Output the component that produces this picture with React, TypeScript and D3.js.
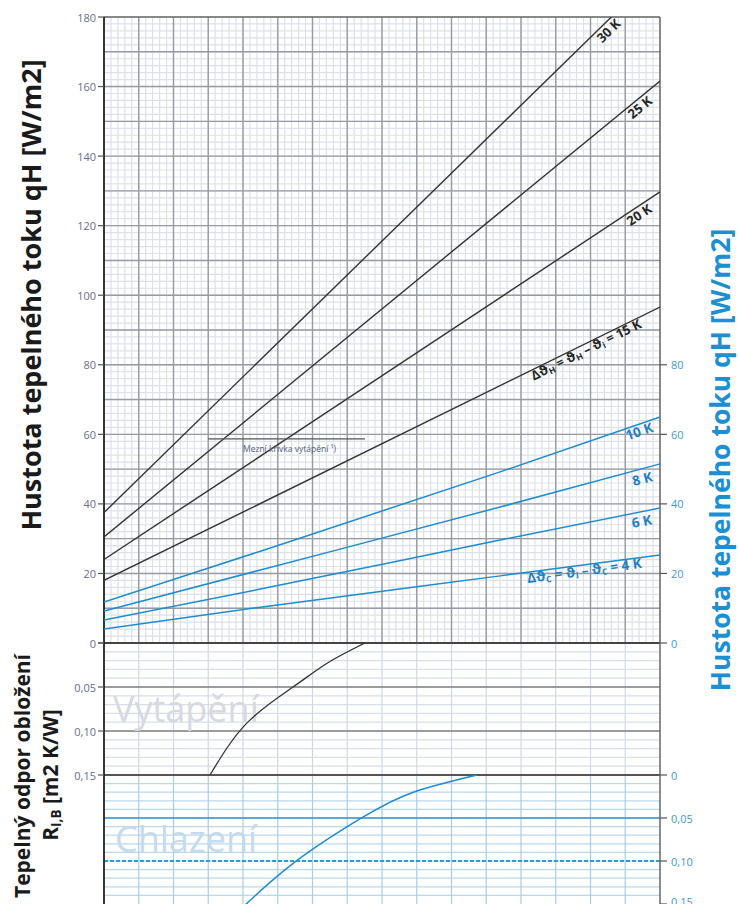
import * as d3 from 'd3';

// column grid (the x axis carries no labels in the source chart)
const COLS = 16;

// heat flux lines, black (heating) – [column, q W/m2]
const heat30 = [[0, 37.5], [14.6, 180]];
const heat25 = [[0, 30.5], [16, 161.6]];
const heat20 = [[0, 24], [16, 129.7]];
const heat15 = [[0, 18], [16, 96.6]];

// heat flux lines, blue (cooling)
const cool10 = [[0, 11.8], [4.5, 26.4], [11.4, 49.2], [16, 65]];
const cool8 = [[0, 9.2], [4.5, 21.0], [11.4, 39.1], [16, 51.5]];
const cool6 = [[0, 6.6], [4.5, 15.5], [11.4, 29.6], [16, 38.8]];
const cool4 = [[0, 4.0], [4.5, 10.3], [11.4, 19.3], [16, 25.3]];

// limit curve (Mezní křivka vytápění) – q level and column span
const limitQ = 58.7;
const limitCols = [3.0, 7.51];

// R_lambda,B curves in the two lower panels – [column, R]
const heatR = [[3.05, 0.15], [4.11, 0.091], [5.44, 0.05], [6.42, 0.023], [7.51, 0]];
const coolR = [[3.9, 0.157], [4.12, 0.149], [5.5, 0.101], [7.45, 0.049], [8.9, 0.02], [10.73, 0]];

const leftQTicks = [0, 20, 40, 60, 80, 100, 120, 140, 160, 180];
const rightQTicks = [0, 20, 40, 60, 80];
const rTicks = [0, 0.05, 0.1, 0.15];
const rTickLabels = ['0', '0,05', '0,10', '0,15'];

const x = d3.scaleLinear().domain([0, COLS]).range([104, 660]);
const yQ = d3.scaleLinear().domain([0, 180]).range([643, 17]);
const yHeat = d3.scaleLinear().domain([0, 0.15]).range([643, 775]);
const yCool = d3.scaleLinear().domain([0, 0.15]).range([775, 904]);

const BLACK = '#333';
const BLUE = '#1d8cd0';

type Pt = number[];

function qAt(pts: Pt[], c: number) {
  for (let i = 1; i < pts.length; i++) {
    if (c <= pts[i][0]) {
      const t = (c - pts[i - 1][0]) / (pts[i][0] - pts[i - 1][0]);
      return pts[i - 1][1] + t * (pts[i][1] - pts[i - 1][1]);
    }
  }
  return pts[pts.length - 1][1];
}

// place a label on a line, rotated along it, shifted below by `off`
function along(pts: Pt[], c: number, off: number) {
  const a = pts[0], b = pts[pts.length - 1];
  const ang = (Math.atan2(yQ(b[1]) - yQ(a[1]), x(b[0]) - x(a[0])) * 180) / Math.PI;
  return `translate(${x(c)},${yQ(qAt(pts, c))}) rotate(${ang}) translate(0,${off})`;
}

const lineQ = d3.line<Pt>().x(d => x(d[0])).y(d => yQ(d[1])).curve(d3.curveMonotoneX);
const lineHeat = d3.line<Pt>().x(d => x(d[0])).y(d => yHeat(d[1])).curve(d3.curveNatural);
const lineCool = d3.line<Pt>().x(d => x(d[0])).y(d => yCool(d[1])).curve(d3.curveNatural);

export default function App() {
  const minorCols = d3.range(0, COLS * 5 + 1).map(i => i / 5);
  const majorCols = d3.range(1, COLS);
  const minorQ = d3.range(0, 181, 2);
  const majorQ = d3.range(10, 180, 10);
  const minorR = d3.range(1, 15).map(i => i / 100);

  const sub = { fontSize: 8.5 };

  return (
    <div style={{ position: 'absolute', left: 0, top: 0 }}>
      <svg width={738} height={904} style={{ display: 'block', fontFamily: '"Open Sans", sans-serif' }}>
        <defs>
          <clipPath id="top"><rect x={104} y={17} width={556} height={626} /></clipPath>
          <clipPath id="bottom"><rect x={104} y={643} width={556} height={261} /></clipPath>
        </defs>

        {/* upper panel grid */}
        {minorCols.map(c => (
          <line key={'mc' + c} x1={x(c)} x2={x(c)} y1={17} y2={643} stroke="#dde1e8" strokeWidth={1.2} />
        ))}
        {minorQ.map(q => (
          <line key={'mq' + q} x1={104} x2={660} y1={yQ(q)} y2={yQ(q)} stroke="#dde1e8" strokeWidth={1.2} />
        ))}
        {majorCols.map(c => (
          <line key={'Mc' + c} x1={x(c)} x2={x(c)} y1={17} y2={643} stroke="#969ba5" strokeWidth={1.4} />
        ))}
        {majorQ.map(q => (
          <line key={'Mq' + q} x1={104} x2={660} y1={yQ(q)} y2={yQ(q)} stroke="#969ba5" strokeWidth={1.4} />
        ))}

        {/* heating panel grid */}
        {minorR.map(r => (
          <line key={'hr' + r} x1={104} x2={660} y1={yHeat(r)} y2={yHeat(r)} stroke="#dadfe7" strokeWidth={1.2} />
        ))}
        {majorCols.map(c => (
          <line key={'hc' + c} x1={x(c)} x2={x(c)} y1={643} y2={775} stroke="#cfd8e4" strokeWidth={1.2} />
        ))}
        {[0.05, 0.1].map(r => (
          <line key={'hR' + r} x1={104} x2={660} y1={yHeat(r)} y2={yHeat(r)} stroke="#808080" strokeWidth={1.3} />
        ))}

        {/* cooling panel grid */}
        {minorR.map(r => (
          <line key={'cr' + r} x1={104} x2={660} y1={yCool(r)} y2={yCool(r)} stroke="#bcd8ef" strokeWidth={1.2} />
        ))}
        {majorCols.map(c => (
          <line key={'cc' + c} x1={x(c)} x2={x(c)} y1={775} y2={904} stroke="#a8cdea" strokeWidth={1.2} />
        ))}
        <line x1={104} x2={660} y1={yCool(0.05)} y2={yCool(0.05)} stroke="#2c96d6" strokeWidth={1.6} />
        <line x1={104} x2={660} y1={yCool(0.1)} y2={yCool(0.1)} stroke="#1aa0e6" strokeWidth={2.2} strokeDasharray="4,2" />

        <text x={113} y={722} fontSize={36} fill="#d6d9df">Vytápění</text>
        <text x={115} y={852} fontSize={36} fill="#c4daee">Chlazení</text>

        {/* frame */}
        <line x1={104} x2={660} y1={17} y2={17} stroke="#666" strokeWidth={1.5} />
        <line x1={104} x2={660} y1={643} y2={643} stroke="#444" strokeWidth={2} />
        <line x1={104} x2={660} y1={775} y2={775} stroke="#555" strokeWidth={2} />
        <line x1={660} x2={660} y1={17} y2={904} stroke="#666" strokeWidth={1.5} />
        <line x1={104} x2={104} y1={17} y2={904} stroke="#222" strokeWidth={1.8} />

        {/* heat flux lines */}
        <g clipPath="url(#top)" fill="none">
          {[heat30, heat25, heat20, heat15].map((d, i) => (
            <path key={'h' + i} d={lineQ(d as Pt[]) || ''} stroke={BLACK} strokeWidth={1.4} />
          ))}
          {[cool10, cool8, cool6, cool4].map((d, i) => (
            <path key={'c' + i} d={lineQ(d as Pt[]) || ''} stroke={BLUE} strokeWidth={1.5} />
          ))}
        </g>

        {/* limit line */}
        <line x1={x(limitCols[0])} x2={x(limitCols[1])} y1={yQ(limitQ)} y2={yQ(limitQ)} stroke="#555" strokeWidth={1.3} />
        <text x={x(4.0)} y={yQ(limitQ) + 13} fontSize={8.5} fill="#55607a">Mezní křivka vytápění ¹)</text>

        {/* R curves */}
        <g clipPath="url(#bottom)" fill="none">
          <path d={lineHeat(heatR as Pt[]) || ''} stroke={BLACK} strokeWidth={1.3} />
          <path d={lineCool(coolR as Pt[]) || ''} stroke={BLUE} strokeWidth={1.5} />
        </g>

        {/* line labels */}
        <g fontWeight={700} fontSize={13} fill="#262626" textAnchor="middle">
          <text transform={along(heat30 as Pt[], 14.36, 12.5)}>30 K</text>
          <text transform={along(heat25 as Pt[], 15.28, 12.3)}>25 K</text>
          <text transform={along(heat20 as Pt[], 15.28, 12.3)}>20 K</text>
          <text transform={along(heat15 as Pt[], 13.8, 10.3)}>
            Δϑ<tspan style={sub} dy={2}>H</tspan><tspan dy={-2}> = ϑ</tspan><tspan style={sub} dy={2}>H</tspan>
            <tspan dy={-2}> – ϑ</tspan><tspan style={sub} dy={2}>i</tspan><tspan dy={-2}> = 15 K</tspan>
          </text>
        </g>
        <g fontWeight={700} fontSize={13.5} fill="#1f80c6" textAnchor="middle">
          <text transform={along(cool10 as Pt[], 15.34, 11.7)}>10 K</text>
          <text transform={along(cool8 as Pt[], 15.42, 14.7)}>8 K</text>
          <text transform={along(cool6 as Pt[], 15.42, 14.3)}>6 K</text>
          <text transform={along(cool4 as Pt[], 13.8, 10.5)}>
            Δϑ<tspan style={sub} dy={2}>C</tspan><tspan dy={-2}> = ϑ</tspan><tspan style={sub} dy={2}>i</tspan>
            <tspan dy={-2}> – ϑ</tspan><tspan style={sub} dy={2}>C</tspan><tspan dy={-2}> = 4 K</tspan>
          </text>
        </g>

        {/* left axis */}
        <g fontSize={11} fill="#6c6c88">
          {leftQTicks.map(q => (
            <g key={'lq' + q}>
              <line x1={98} x2={104} y1={yQ(q)} y2={yQ(q)} stroke="#555" strokeWidth={1.2} />
              <text x={96} y={yQ(q)} textAnchor="end" dominantBaseline="central">{q}</text>
            </g>
          ))}
          {rTicks.map((r, i) => (
            <g key={'lr' + r}>
              <line x1={98} x2={104} y1={yHeat(r)} y2={yHeat(r)} stroke="#555" strokeWidth={1.2} />
              {i > 0 && <text x={96} y={yHeat(r)} textAnchor="end" dominantBaseline="central">{rTickLabels[i]}</text>}
            </g>
          ))}
        </g>

        {/* right axis */}
        <g fontSize={11} fill="#3d9ad8">
          {rightQTicks.map(q => (
            <g key={'rq' + q}>
              <line x1={660} x2={667} y1={yQ(q)} y2={yQ(q)} stroke="#555" strokeWidth={1.2} />
              <text x={671} y={yQ(q)} dominantBaseline="central">{q}</text>
            </g>
          ))}
          {rTicks.map((r, i) => (
            <g key={'rr' + r}>
              <line x1={660} x2={667} y1={yCool(r)} y2={yCool(r)} stroke="#555" strokeWidth={1.2} />
              <text x={671} y={yCool(r) - (i === 3 ? 3 : 0)} dominantBaseline="central">{rTickLabels[i]}</text>
            </g>
          ))}
        </g>

        {/* axis titles */}
        <text transform="translate(41,295) rotate(-90)" textAnchor="middle" fontSize={27} fontWeight={700} fill="#1a1a1a">
          Hustota tepelného toku qH [W/m2]
        </text>
        <text transform="translate(730,460) rotate(-90)" textAnchor="middle" fontSize={26.5} fontWeight={700} fill="#1a8fd3">
          Hustota tepelného toku qH [W/m2]
        </text>
        <text transform="translate(30,776) rotate(-90)" textAnchor="middle" fontSize={21} fontWeight={700} fill="#1a1a1a">
          Tepelný odpor obložení
        </text>
        <text transform="translate(58,775) rotate(-90)" textAnchor="middle" fontSize={21} fontWeight={700} fill="#1a1a1a">
          R<tspan fontSize={13.5} dy={3}>I,B</tspan><tspan dy={-3}> [m2 K/W]</tspan>
        </text>
      </svg>
    </div>
  );
}
